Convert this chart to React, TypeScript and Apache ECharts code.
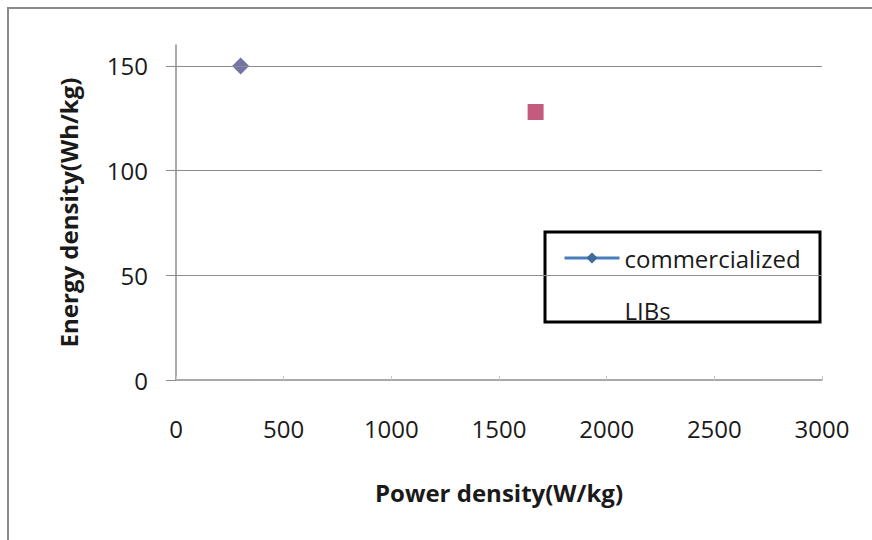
import React, { useEffect, useRef } from "react";
import * as echarts from "echarts";

const xTicks = [0, 500, 1000, 1500, 2000, 2500, 3000];
const yTicks = [0, 50, 100, 150];
const commercialLIBs: [number, number][] = [[300, 150]];
const otherPoint: [number, number][] = [[1670, 128]];
const legendName = "commercialized LIBs";
const xTitle = "Power density(W/kg)";
const yTitle = "Energy density(Wh/kg)";

const FONT = "'Open Sans', 'Noto Sans', sans-serif";

export default function App() {
  const ref = useRef<HTMLDivElement>(null);
  useEffect(() => {
    if (!ref.current) return;
    const chart = echarts.init(ref.current, undefined, { renderer: "svg" });
    const L = 52;
    chart.setOption({
      animation: false,
      backgroundColor: "#ffffff",
      grid: { left: 176, right: 50, top: 45, bottom: 160, containLabel: false },
      xAxis: {
        type: "value",
        min: xTicks[0],
        max: xTicks[xTicks.length - 1],
        interval: xTicks[1] - xTicks[0],
        name: xTitle,
        nameLocation: "middle",
        nameGap: 100,
        nameTextStyle: { fontFamily: FONT, fontSize: 24, fontWeight: "bold", color: "#1a1a1a" },
        axisLine: { show: true, lineStyle: { color: "#8c8c8c", width: 1.5 } },
        axisTick: { show: true, length: 4, inside: true, lineStyle: { color: "#c8c8c8" } },
        axisLabel: {
          margin: 36,
          fontFamily: FONT,
          fontSize: 24,
          color: "#1a1a1a",
          formatter: (v: number) => String(v),
        },
        splitLine: { show: false },
      },
      yAxis: {
        type: "value",
        min: 0,
        max: 160,
        interval: yTicks[1] - yTicks[0],
        name: yTitle,
        nameLocation: "middle",
        nameGap: 96,
        nameTextStyle: { fontFamily: FONT, fontSize: 24, fontWeight: "bold", color: "#1a1a1a" },
        axisLine: { show: true, lineStyle: { color: "#8c8c8c", width: 1.5 } },
        axisTick: { show: true, length: 10, lineStyle: { color: "#8c8c8c" } },
        axisLabel: {
          margin: 28,
          fontFamily: FONT,
          fontSize: 24,
          color: "#1a1a1a",
          showMaxLabel: false,
          formatter: (v: number) => String(v),
        },
        splitLine: { show: false },
      },
      legend: {
        left: 563,
        top: 180,
        padding: 0,
        itemWidth: 55,
        itemHeight: 14,
        data: [
          {
            name: legendName,
            itemStyle: { color: "#3f6a9c" },
            lineStyle: { color: "#4a7ebb", width: 3 },
          },
        ],
        textStyle: {
          fontFamily: FONT,
          fontSize: 24,
          color: "#1a1a1a",
          lineHeight: L,
        },
        formatter: () => " \ncommercialized\nLIBs",
      },
      graphic: [
        {
          type: "rect",
          shape: { x: 8, y: 8, width: 900, height: 600 },
          style: { fill: "none", stroke: "#8a8a8a", lineWidth: 2 },
          silent: true,
          z: -1,
        },
        {
          type: "rect",
          shape: { x: 545, y: 232, width: 275, height: 90 },
          style: { fill: "none", stroke: "#000000", lineWidth: 3 },
          silent: true,
        },
      ],
      series: [
        {
          name: legendName,
          type: "line",
          data: commercialLIBs,
          symbol: "diamond",
          symbolSize: 17,
          itemStyle: { color: "#7473a8" },
          lineStyle: { color: "#4a7ebb" },
          markLine: {
            silent: true,
            symbol: "none",
            label: { show: false },
            lineStyle: { color: "#8c8c8c", type: "solid", width: 1.2 },
            data: yTicks.filter((v) => v > 0).map((v) => ({ yAxis: v })),
          },
          z: 3,
        },
        {
          name: "other",
          type: "scatter",
          data: otherPoint,
          symbol: "rect",
          symbolSize: 16,
          itemStyle: { color: "#b5325f" },
          z: 3,
        },
      ],
    });
    return () => chart.dispose();
  }, []);
  return (
    <div
      ref={ref}
      style={{ position: "fixed", left: 0, top: 0, width: 872, height: 540 }}
    />
  );
}
